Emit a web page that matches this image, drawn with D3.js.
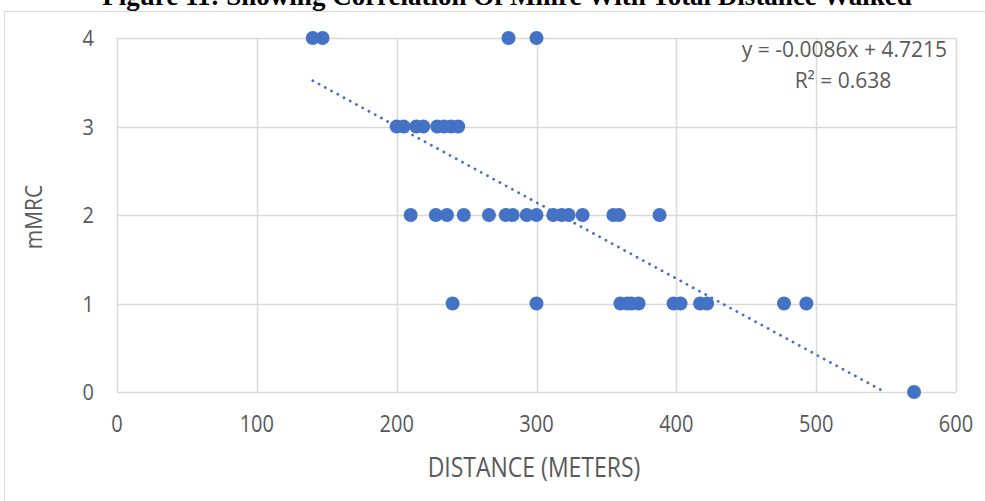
<!DOCTYPE html>
<html>
<head>
<meta charset="utf-8">
<script src="https://cdn.jsdelivr.net/npm/d3@7"></script>
<style>
  body { margin: 0; background: #fff; }
  text { font-family: "Open Sans", "Liberation Sans", sans-serif; fill: #595959; }
</style>
</head>
<body>
<div id="main"></div>
<script>
var width = 985,
    height = 501;

// distance walked (m) for each mMRC grade
var dist4 = [140, 147, 280, 300];
var dist3 = [200, 205, 214, 219, 229, 234, 239, 244];
var dist2 = [210, 228, 236, 248, 266, 278, 283, 293, 300, 312, 318, 323, 333, 355, 359, 388];
var dist1 = [240, 300, 360, 365, 368, 373, 398, 403, 417, 422, 477, 493];
var dist0 = [570];

var xTicks = [0, 100, 200, 300, 400, 500, 600];
var yTicks = [0, 1, 2, 3, 4];

// trendline shown on the chart
var slope = -0.0086, intercept = 4.7215, r2 = 0.638;

var points = [];
[[0, dist0], [1, dist1], [2, dist2], [3, dist3], [4, dist4]].forEach(function (g) {
  g[1].forEach(function (d) { points.push({ x: d, y: g[0] }); });
});

var svg = d3.select('#main').append("svg")
  .attr("width", width)
  .attr("height", height);

// chart border
svg.append("path")
  .attr("d", "M4.5,501 V11.5 H985")
  .attr("fill", "none")
  .attr("stroke", "#d9d9d9")
  .attr("stroke-width", 1);

svg.append("text")
  .attr("x", 507)
  .attr("y", 5)
  .attr("text-anchor", "middle")
  .style("font-family", "'Liberation Serif', 'Times New Roman', serif")
  .style("font-weight", "bold")
  .style("font-size", "27px")
  .style("fill", "#000")
  .text("Figure 11: Showing Correlation Of Mmrc With Total Distance Walked");

var x = d3.scaleLinear().domain([0, 600]).range([117, 956]);
var y = d3.scaleLinear().domain([0, 4]).range([392, 38]);

// grid
svg.append("g").selectAll("line.v")
  .data(xTicks)
  .enter().append("line")
  .attr("x1", function (d) { return Math.round(x(d)) + 0.5; })
  .attr("x2", function (d) { return Math.round(x(d)) + 0.5; })
  .attr("y1", y(4))
  .attr("y2", y(0))
  .attr("stroke", "#d9d9d9")
  .attr("stroke-width", 1.5);

svg.append("g").selectAll("line.h")
  .data(yTicks)
  .enter().append("line")
  .attr("x1", x(0))
  .attr("x2", x(600))
  .attr("y1", function (d) { return Math.round(y(d)) + 0.5; })
  .attr("y2", function (d) { return Math.round(y(d)) + 0.5; })
  .attr("stroke", "#d9d9d9")
  .attr("stroke-width", 1.5);

// tick labels (text in the source is a little tall and narrow)
svg.append("g").selectAll("text")
  .data(xTicks)
  .enter().append("text")
  .attr("transform", function (d) { return "translate(" + x(d) + ",432) scale(1,1.15)"; })
  .attr("text-anchor", "middle")
  .style("font-size", "20px")
  .text(function (d) { return d; });

svg.append("g").selectAll("text")
  .data(yTicks)
  .enter().append("text")
  .attr("transform", function (d) { return "translate(94," + (y(d) + 8) + ") scale(1,1.1)"; })
  .attr("text-anchor", "end")
  .style("font-size", "20px")
  .text(function (d) { return d; });

// axis titles
svg.append("text")
  .attr("transform", "translate(534,477) scale(1,1.2)")
  .attr("text-anchor", "middle")
  .style("font-size", "23px")
  .text("DISTANCE (METERS)");

svg.append("text")
  .attr("transform", "translate(42,217) rotate(-90) scale(1,1.1)")
  .attr("text-anchor", "middle")
  .style("font-size", "21px")
  .text("mMRC");

// trendline, clipped at y = 0
var xMin = d3.min(points, function (d) { return d.x; });
var xEnd = -intercept / slope;
svg.append("line")
  .attr("x1", x(xMin))
  .attr("y1", y(slope * xMin + intercept))
  .attr("x2", x(xEnd))
  .attr("y2", y(0))
  .attr("stroke", "#4472C4")
  .attr("stroke-width", 2.8)
  .attr("stroke-linecap", "round")
  .attr("stroke-dasharray", "0.1,7");

// points
svg.append("g").selectAll("circle")
  .data(points)
  .enter().append("circle")
  .attr("cx", function (d) { return x(d.x); })
  .attr("cy", function (d) { return y(d.y); })
  .attr("r", 7)
  .attr("fill", "#4472C4");

// equation
var eq = svg.append("g");
eq.append("text")
  .attr("x", 947)
  .attr("y", 57)
  .attr("text-anchor", "end")
  .style("font-size", "21px")
  .text("y = " + slope + "x + " + intercept);
eq.append("text")
  .attr("x", 843)
  .attr("y", 88)
  .attr("text-anchor", "middle")
  .style("font-size", "21px")
  .text("R² = " + r2);
</script>
</body>
</html>
